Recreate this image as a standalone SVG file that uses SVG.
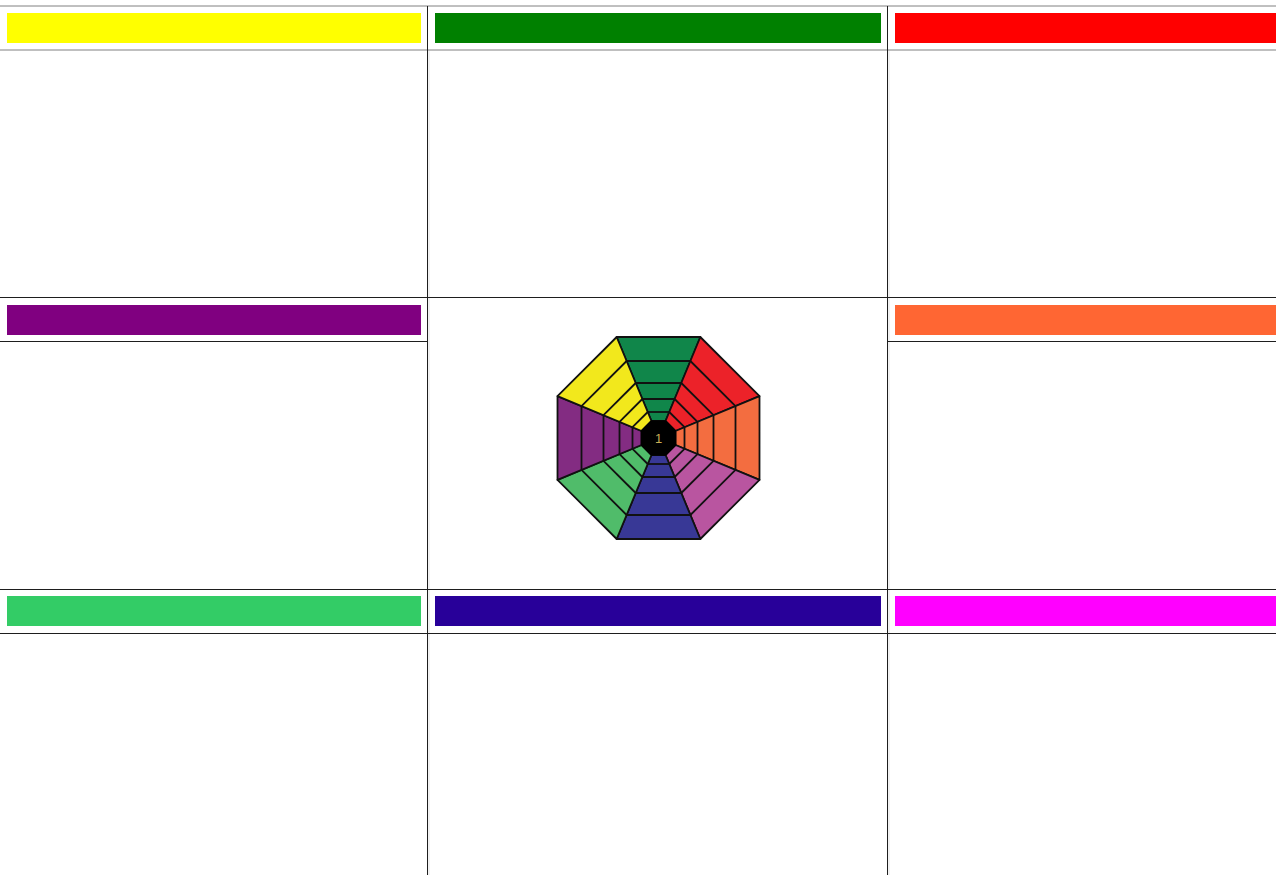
<svg xmlns="http://www.w3.org/2000/svg" width="1276" height="875" viewBox="0 0 1276 875">
  <style>
    .bar { stroke: none; }
    .grid-gray { stroke: #808080; stroke-width: 1; fill: none; }
    .grid { stroke: #1e1e1e; stroke-width: 1; fill: none; }
    .shade { stroke: #e4e4e4; stroke-width: 1; fill: none; }
    .wedge polygon { stroke: #111; stroke-width: 1.8; stroke-linejoin: round; }
    .num { font-family: "Liberation Sans", Arial, sans-serif; font-size: 13px; fill: #C9AE55; text-anchor: middle; dominant-baseline: central; }
  </style>
  <defs>
    <g id="wedgeLines" stroke="#111" stroke-width="1.8" fill="none">
      <line x1="-31.89" y1="-77" x2="31.89" y2="-77"/>
      <line x1="-22.78" y1="-55" x2="22.78" y2="-55"/>
      <line x1="-16.15" y1="-39" x2="16.15" y2="-39"/>
      <line x1="-10.77" y1="-26" x2="10.77" y2="-26"/>
    </g>
  </defs>
  <rect width="1276" height="875" fill="#ffffff"/>

  <g id="grid">
    <line class="shade" x1="429" y1="50" x2="429" y2="875"/>
    <line class="shade" x1="889" y1="50" x2="889" y2="875"/>
    <line class="grid-gray" x1="0" y1="6" x2="1276" y2="6"/>
    <line class="grid-gray" x1="0" y1="50" x2="1276" y2="50"/>
    <line class="grid" x1="0" y1="297.5" x2="1276" y2="297.5"/>
    <line class="grid" x1="0" y1="341.5" x2="428" y2="341.5"/>
    <line class="grid" x1="887" y1="341.5" x2="1276" y2="341.5"/>
    <line class="grid" x1="0" y1="589.5" x2="1276" y2="589.5"/>
    <line class="grid" x1="0" y1="633.5" x2="1276" y2="633.5"/>
    <line class="grid" x1="427.5" y1="6" x2="427.5" y2="875"/>
    <line class="grid" x1="887.5" y1="6" x2="887.5" y2="875"/>
  </g>

  <g id="cell-yellow"><rect class="bar" x="7" y="13" width="414" height="30" fill="#FFFF00"/></g>
  <g id="cell-green"><rect class="bar" x="435" y="13" width="446" height="30" fill="#008000"/></g>
  <g id="cell-red"><rect class="bar" x="895" y="13" width="381" height="30" fill="#FF0000"/></g>
  <g id="cell-purple"><rect class="bar" x="7" y="305" width="414" height="30" fill="#800080"/></g>
  <g id="cell-orange"><rect class="bar" x="895" y="305" width="381" height="30" fill="#FF6633"/></g>
  <g id="cell-lightgreen"><rect class="bar" x="7" y="596" width="414" height="30" fill="#33CC66"/></g>
  <g id="cell-indigo"><rect class="bar" x="435" y="596" width="446" height="30" fill="#280099"/></g>
  <g id="cell-magenta"><rect class="bar" x="895" y="596" width="381" height="30" fill="#FF00FF"/></g>

  <g id="center-wheel" transform="translate(658.5,438)">
    <g class="wedge" transform="rotate(0)"><polygon points="-41.84,-101 41.84,-101 7.04,-17 -7.04,-17" fill="#10864A"/><use href="#wedgeLines"/></g>
    <g class="wedge" transform="rotate(45)"><polygon points="-41.84,-101 41.84,-101 7.04,-17 -7.04,-17" fill="#EC2229"/><use href="#wedgeLines"/></g>
    <g class="wedge" transform="rotate(90)"><polygon points="-41.84,-101 41.84,-101 7.04,-17 -7.04,-17" fill="#F36D40"/><use href="#wedgeLines"/></g>
    <g class="wedge" transform="rotate(135)"><polygon points="-41.84,-101 41.84,-101 7.04,-17 -7.04,-17" fill="#B955A0"/><use href="#wedgeLines"/></g>
    <g class="wedge" transform="rotate(180)"><polygon points="-41.84,-101 41.84,-101 7.04,-17 -7.04,-17" fill="#383896"/><use href="#wedgeLines"/></g>
    <g class="wedge" transform="rotate(225)"><polygon points="-41.84,-101 41.84,-101 7.04,-17 -7.04,-17" fill="#50BC6A"/><use href="#wedgeLines"/></g>
    <g class="wedge" transform="rotate(270)"><polygon points="-41.84,-101 41.84,-101 7.04,-17 -7.04,-17" fill="#832C82"/><use href="#wedgeLines"/></g>
    <g class="wedge" transform="rotate(315)"><polygon points="-41.84,-101 41.84,-101 7.04,-17 -7.04,-17" fill="#F2E81C"/><use href="#wedgeLines"/></g>
    <polygon points="7.04,-17 17,-7.04 17,7.04 7.04,17 -7.04,17 -17,7.04 -17,-7.04 -7.04,-17" fill="#000" stroke="#000" stroke-width="1.5"/>
    <text class="num" x="0" y="0">1</text>
  </g>
</svg>
